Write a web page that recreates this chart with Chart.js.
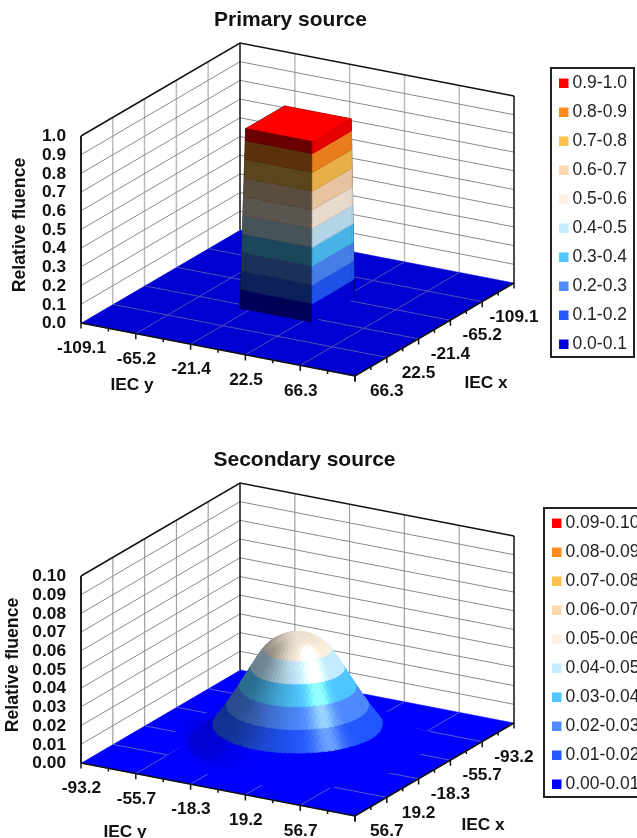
<!DOCTYPE html>
<html lang="en">
  <head>
    <meta charset="utf-8" />
    <title>Primary and secondary source fluence</title>
    <style>
      * { margin: 0; padding: 0; }
      body { width: 637px; height: 838px; overflow: hidden; background: #fff; position: relative; }
      canvas { position: absolute; left: 0; filter: blur(0.35px); }
      #primaryChart { top: 0; }
      #secondaryChart { top: 440px; }
    </style>
  </head>
  <body>
    <canvas id="primaryChart" width="637" height="440"></canvas>
    <canvas id="secondaryChart" width="637" height="398"></canvas>

    <script src="https://cdn.jsdelivr.net/npm/chart.js"></script>
    <script>
      // data block - primary source
      const primaryBands = ["0.0-0.1", "0.1-0.2", "0.2-0.3", "0.3-0.4", "0.4-0.5", "0.5-0.6", "0.6-0.7", "0.7-0.8", "0.8-0.9", "0.9-1.0"];
      const primaryZ = [0, 0.1, 0.2, 0.3, 0.4, 0.5, 0.6, 0.7, 0.8, 0.9, 1.0];
      const primaryZLabels = ["0.0", "0.1", "0.2", "0.3", "0.4", "0.5", "0.6", "0.7", "0.8", "0.9", "1.0"];
      const primaryIecTicks = [-109.1, -65.2, -21.4, 22.5, 66.3];
      const primaryIecRange = [-109.1, 110.1];
      const primaryGrid = [-109.1, -29.0, -24.4, 29.0, 29.6, 110.1];
      const primaryFluence = [
        [0, 0, 0, 0, 0, 0],
        [0, 0, 0, 0, 0, 0],
        [0, 0, 0.965, 0.965, 0, 0],
        [0, 0, 0.965, 0.965, 0, 0],
        [0, 0, 0, 0, 0, 0],
        [0, 0, 0, 0, 0, 0],
      ];

      // data block - secondary source
      const secondaryBands = ["0.00-0.01", "0.01-0.02", "0.02-0.03", "0.03-0.04", "0.04-0.05", "0.05-0.06", "0.06-0.07", "0.07-0.08", "0.08-0.09", "0.09-0.10"];
      const secondaryZ = [0, 0.01, 0.02, 0.03, 0.04, 0.05, 0.06, 0.07, 0.08, 0.09, 0.1];
      const secondaryZLabels = ["0.00", "0.01", "0.02", "0.03", "0.04", "0.05", "0.06", "0.07", "0.08", "0.09", "0.10"];
      const secondaryIecTicks = [-93.2, -55.7, -18.3, 19.2, 56.7];
      const secondaryIecRange = [-93.2, 94.2];
      const secondaryCover = [-55.7, 58.0];
      const secondaryGrid = [-93.2, -65.1, -55.7, -46.4, -37.0, -27.6, -18.3, -8.9, 0.5, 9.9, 19.2, 28.6, 38.0, 47.3, 56.7, 66.1, 94.2];
      const secondaryFluence = [
        [0, 0, 0, 0, 0, 0, 0, 0, 0, 0, 0, 0, 0, 0, 0, 0, 0],
        [0, 0, 0, 0, 0, 0, 0.0002, 0.0004, 0.0005, 0.0004, 0.0002, 0, 0, 0, 0, 0, 0],
        [0, 0, 0, 0, 0.0002, 0.0013, 0.0026, 0.0036, 0.0046, 0.0036, 0.0026, 0.0013, 0.0002, 0, 0, 0, 0],
        [0, 0, 0, 0.0004, 0.0023, 0.0058, 0.0096, 0.0128, 0.0139, 0.0128, 0.0096, 0.0058, 0.0023, 0.0004, 0, 0, 0],
        [0, 0, 0.0002, 0.0023, 0.0072, 0.0139, 0.0201, 0.0243, 0.0257, 0.0243, 0.0201, 0.0139, 0.0072, 0.0023, 0.0002, 0, 0],
        [0, 0, 0.0013, 0.0058, 0.0139, 0.0228, 0.031, 0.0371, 0.0392, 0.0371, 0.031, 0.0228, 0.0139, 0.0058, 0.0013, 0, 0],
        [0, 0.0002, 0.0026, 0.0096, 0.0201, 0.031, 0.0413, 0.049, 0.0512, 0.049, 0.0413, 0.031, 0.0201, 0.0096, 0.0026, 0.0002, 0],
        [0, 0.0004, 0.0036, 0.0128, 0.0243, 0.0371, 0.049, 0.0548, 0.0566, 0.0548, 0.049, 0.0371, 0.0243, 0.0128, 0.0036, 0.0004, 0],
        [0, 0.0005, 0.0046, 0.0139, 0.0257, 0.0392, 0.0512, 0.0566, 0.0588, 0.0566, 0.0512, 0.0392, 0.0257, 0.0139, 0.0046, 0.0005, 0],
        [0, 0.0004, 0.0036, 0.0128, 0.0243, 0.0371, 0.049, 0.0548, 0.0566, 0.0548, 0.049, 0.0371, 0.0243, 0.0128, 0.0036, 0.0004, 0],
        [0, 0.0002, 0.0026, 0.0096, 0.0201, 0.031, 0.0413, 0.049, 0.0512, 0.049, 0.0413, 0.031, 0.0201, 0.0096, 0.0026, 0.0002, 0],
        [0, 0, 0.0013, 0.0058, 0.0139, 0.0228, 0.031, 0.0371, 0.0392, 0.0371, 0.031, 0.0228, 0.0139, 0.0058, 0.0013, 0, 0],
        [0, 0, 0.0002, 0.0023, 0.0072, 0.0139, 0.0201, 0.0243, 0.0257, 0.0243, 0.0201, 0.0139, 0.0072, 0.0023, 0.0002, 0, 0],
        [0, 0, 0, 0.0004, 0.0023, 0.0058, 0.0096, 0.0128, 0.0139, 0.0128, 0.0096, 0.0058, 0.0023, 0.0004, 0, 0, 0],
        [0, 0, 0, 0, 0.0002, 0.0013, 0.0026, 0.0036, 0.0046, 0.0036, 0.0026, 0.0013, 0.0002, 0, 0, 0, 0],
        [0, 0, 0, 0, 0, 0, 0.0002, 0.0004, 0.0005, 0.0004, 0.0002, 0, 0, 0, 0, 0, 0],
        [0, 0, 0, 0, 0, 0, 0, 0, 0, 0, 0, 0, 0, 0, 0, 0, 0],
      ];

      const bandColors = ["#0000ff", "#2259ff", "#4f8aff", "#4fc6ff", "#c6ecff", "#fff0e0", "#ffd9b0", "#ffc24f", "#ff8a1e", "#ff0000"];

      // view of the box, in canvas pixels
      const view = {
        back: [240, 230],
        alongY: [274, 53],
        alongX: [-159, 93],
        height: 187,
      };

      const rgb = (hex) => [1, 3, 5].map((i) => parseInt(hex.slice(i, i + 2), 16));
      const toCss = (c) => `rgb(${c.map((v) => Math.max(0, Math.min(255, Math.round(v)))).join(",")})`;
      const smooth = (a, b, t) => {
        const s = Math.max(0, Math.min(1, (t - a) / (b - a)));
        return s * s * (3 - 2 * s);
      };

      // lighting of the primary block: flat faces, lit from the right
      const primaryShade = (n, band) => {
        const left = band === 0 ? 0.42 : band === 9 ? 0.41 : 0.35;
        const right = band === 0 ? 1 : 0.9;
        const s = right * Math.max(n[0], 0) + left * Math.max(n[1], 0) + Math.max(n[2], 0);
        return { s, spec: 0, base: band === 0 ? "#0000d2" : bandColors[band] };
      };

      // lighting of the secondary dome: darker to the left, streak front right
      const secondaryShade = (n, band) => {
        const m = Math.hypot(n[0], n[1]) || 1e-6;
        const cosAz = n[0] / m;
        if (band === 0) {
          // foot of the dome: only a soft shadow on the left
          const dark = smooth(0.1, -0.7, cosAz) * smooth(0.02, 0.3, m);
          return { s: 1 - 0.18 * dark, spec: 0, base: bandColors[0] };
        }
        const side = 0.55 + 0.45 * smooth(-0.6, 0.7, cosAz);
        const w = Math.pow(n[2], 10);
        const az = Math.atan2(n[1], n[0]);
        const streak = Math.exp(-Math.pow((az - 0.65) / 0.2, 2)) * smooth(0.3, 0.5, m);
        return { s: side * (1 - w) + 0.93 * w, spec: 75 * streak, base: bandColors[band] };
      };

      const catmull = (a, b, c, d, t) =>
        0.5 * (2 * b + (c - a) * t + (2 * a - 5 * b + 4 * c - d) * t * t + (3 * b - a - 3 * c + d) * t * t * t);

      const heightAt = (m, r, c) => {
        const n = m.length - 1;
        const r0 = Math.max(0, Math.min(Math.floor(r), n - 1));
        const c0 = Math.max(0, Math.min(Math.floor(c), n - 1));
        const at = (i, j) => m[Math.max(0, Math.min(n, i))][Math.max(0, Math.min(n, j))];
        const row = [-1, 0, 1, 2].map((k) =>
          catmull(at(r0 + k, c0 - 1), at(r0 + k, c0), at(r0 + k, c0 + 1), at(r0 + k, c0 + 2), c - c0)
        );
        return Math.max(0, catmull(row[0], row[1], row[2], row[3], r - r0));
      };

      const clipAt = (poly, level, keepAbove) => {
        const out = [];
        poly.forEach((p, i) => {
          const q = poly[(i + 1) % poly.length];
          const pIn = keepAbove ? p[2] >= level : p[2] <= level;
          const qIn = keepAbove ? q[2] >= level : q[2] <= level;
          if (pIn) out.push(p);
          if (pIn !== qIn) {
            const t = (level - p[2]) / (q[2] - p[2]);
            out.push([p[0] + (q[0] - p[0]) * t, p[1] + (q[1] - p[1]) * t, level]);
          }
        });
        return out;
      };

      function buildDatasets(cfg) {
        const [lo, hi] = cfg.range;
        const zMax = cfg.zTicks[cfg.zTicks.length - 1];
        const project = (x, y, z) => {
          const u = (y - lo) / (hi - lo);
          const v = (x - lo) / (hi - lo);
          return {
            x: view.back[0] + u * view.alongY[0] + v * view.alongX[0],
            y: view.back[1] + u * view.alongY[1] + v * view.alongX[1] - (z / zMax) * view.height,
          };
        };
        cfg.project = project;

        const list = [];
        const line = (pts, color, width) =>
          list.push({
            data: pts,
            showLine: true,
            fill: false,
            borderColor: color,
            borderWidth: width,
            pointRadius: 0,
            clip: false,
          });
        const poly = (pts, color, edge) =>
          list.push({
            data: pts,
            showLine: true,
            fill: "shape",
            backgroundColor: color,
            borderColor: color,
            borderWidth: edge,
            borderDash: [200, 0],
            pointRadius: 0,
            clip: false,
          });

        // walls
        cfg.ticks.slice(1).forEach((t) => {
          line([project(t, lo, 0), project(t, lo, zMax)], cfg.wallV, cfg.wallVWidth);
          line([project(lo, t, 0), project(lo, t, zMax)], cfg.wallV, cfg.wallVWidth);
        });
        cfg.zTicks.slice(1, -1).forEach((z) => {
          line([project(hi, lo, z), project(lo, lo, z), project(lo, hi, z)], cfg.wallH, 1);
        });
        line([project(lo, lo, 0), project(lo, lo, zMax)], "#111", 1.5);
        line([project(lo, hi, 0), project(lo, hi, zMax)], "#111", 1.5);
        line([project(hi, lo, 0), project(hi, lo, zMax)], "#222", 2);
        line([project(hi, lo, zMax), project(lo, lo, zMax), project(lo, hi, zMax)], "#111", 1.5);

        // floor
        poly([project(lo, lo, 0), project(lo, hi, 0), project(hi, hi, 0), project(hi, lo, 0)], cfg.floor, 0.5);
        cfg.ticks.slice(1).forEach((t) => {
          line([project(t, lo, 0), project(t, hi, 0)], cfg.floorLine, 1);
          line([project(lo, t, 0), project(hi, t, 0)], cfg.floorLine, 1);
        });
        if (cfg.cover) {
          const [a, b] = cfg.cover;
          poly([project(a, a, 0), project(a, b, 0), project(b, b, 0), project(b, a, 0)], cfg.floor, 0.5);
        }

        // surface, back to front
        const n = (cfg.grid.length - 1) * cfg.sub;
        const coordAt = (k) => {
          const i = Math.min(Math.floor(k / cfg.sub), cfg.grid.length - 2);
          return cfg.grid[i] + ((cfg.grid[i + 1] - cfg.grid[i]) * (k - i * cfg.sub)) / cfg.sub;
        };
        const h = (r, c) =>
          cfg.sub === 1 ? cfg.fluence[r][c] : heightAt(cfg.fluence, r / cfg.sub, c / cfg.sub);
        const heights = [];
        for (let r = 0; r <= n; r++) {
          heights.push([]);
          for (let c = 0; c <= n; c++) heights[r].push(h(r, c));
        }
        for (let r = 0; r < n; r++) {
          for (let c = 0; c < n; c++) {
            const x0 = coordAt(r), x1 = coordAt(r + 1), y0 = coordAt(c), y1 = coordAt(c + 1);
            const quad = [
              [x0, y0, heights[r][c]],
              [x0, y1, heights[r][c + 1]],
              [x1, y1, heights[r + 1][c + 1]],
              [x1, y0, heights[r + 1][c]],
            ];
            if (quad.every((p) => p[2] < cfg.zFloor)) continue;
            let normal;
            if (cfg.sub > 1) {
              // wide stencil so the shading stays smooth over the mesh
              const rc = (r + 0.5) / cfg.sub, cc = (c + 0.5) / cfg.sub;
              const dr = (heightAt(cfg.fluence, rc + 1, cc) - heightAt(cfg.fluence, rc - 1, cc)) * cfg.zScale;
              const dc = (heightAt(cfg.fluence, rc, cc + 1) - heightAt(cfg.fluence, rc, cc - 1)) * cfg.zScale;
              const step = 2 * (x1 - x0) * cfg.sub;
              const g = [-dc / step, -dr / step, 1];
              const len = Math.hypot(...g);
              normal = g.map((v) => v / len);
            } else {
              // normal from the two diagonals, heights in mm
              const a = [quad[2][0] - quad[0][0], quad[2][1] - quad[0][1], (quad[2][2] - quad[0][2]) * cfg.zScale];
              const b = [quad[3][0] - quad[1][0], quad[3][1] - quad[1][1], (quad[3][2] - quad[1][2]) * cfg.zScale];
              let nrm = [a[1] * b[2] - a[2] * b[1], a[2] * b[0] - a[0] * b[2], a[0] * b[1] - a[1] * b[0]];
              if (nrm[2] < 0) nrm = nrm.map((v) => -v);
              const len = Math.hypot(...nrm) || 1;
              // normal as [toward +y, toward +x, up]
              normal = [nrm[1] / len, nrm[0] / len, nrm[2] / len];
            }
            for (let k = 0; k < cfg.zTicks.length - 1; k++) {
              let part = clipAt(quad, cfg.zTicks[k], true);
              if (part.length > 2) part = clipAt(part, cfg.zTicks[k + 1], false);
              if (part.length < 3) continue;
              const { s, spec, base } = cfg.shade(normal, k);
              const color = toCss(rgb(base).map((v) => v * s + spec));
              poly(part.map((p) => project(p[0], p[1], p[2])), color, cfg.seam);
            }
          }
        }

        // box edges and ticks in front
        line([project(hi, lo, 0), project(hi, hi, 0), project(lo, hi, 0)], "#111", 1.5);
        for (let i = 0; i <= 10; i++) {
          const t = lo + ((hi - lo) * i) / 10;
          const len = (i % 2 === 0 ? 0.03 : 0.017) * zMax;
          line([project(hi, t, 0), project(hi, t, -len)], "#111", 1.5);
          line([project(t, hi, 0), project(t, hi, -len)], "#111", 1.5);
        }
        return list.reverse();
      }

      // text block, drawn on top of the marks
      const boxText = {
        id: "boxText",
        afterDraw(chart, args, o) {
          const { ctx, scales: { x, y } } = chart;
          const px = (p) => [x.getPixelForValue(p.x), y.getPixelForValue(p.y)];
          const text = (str, tx, ty, font, align, color) => {
            ctx.font = font;
            ctx.textAlign = align || "center";
            ctx.textBaseline = "middle";
            ctx.fillStyle = color || "#111";
            ctx.fillText(str, tx, ty);
          };
          const bold = 'bold 17.3px "Liberation Sans"';
          ctx.save();
          text(o.title, o.titleX, 20, 'bold 21px "Liberation Sans"');
          const [lo, hi] = o.range;
          o.zTicks.forEach((z, i) => {
            const [, ty] = px(o.project(hi, lo, z));
            text(o.zLabels[i], 66, ty + 0.5, bold, "right");
          });
          o.ticks.forEach((t) => {
            const [ax, ay] = px(o.project(hi, t, 0));
            text(String(t), ax + 0.5, ay + 25.5, bold);
            const [bx, by] = px(o.project(t, hi, 0));
            text(String(t), bx, by + 34, bold);
          });
          text("IEC y", o.yLabel[0], o.yLabel[1], bold);
          text("IEC x", o.xLabel[0], o.xLabel[1], bold);
          ctx.save();
          ctx.translate(o.zLabel[0], o.zLabel[1]);
          ctx.rotate(-Math.PI / 2);
          text("Relative fluence", 0, 0, 'bold 17.7px "Liberation Sans"');
          ctx.restore();

          // legend box
          const [bx, by, bw, bh] = o.legendBox;
          ctx.strokeStyle = "#222";
          ctx.lineWidth = 2;
          ctx.strokeRect(bx, by, bw, bh);
          for (let i = 0; i < o.bands.length; i++) {
            const k = o.bands.length - 1 - i;
            const cy = by + 15 + i * 29;
            ctx.fillStyle = k === 0 ? o.legendFloor : bandColors[k];
            ctx.fillRect(bx + 8, cy - 4.5, 9.5, 9.5);
            text(o.bands[k], bx + 21.5, cy + 0.5, '17.5px "Liberation Sans"', "left", "#222");
          }
          ctx.restore();
        },
      };

      function drawChart(id, cfg) {
        const canvas = document.getElementById(id);
        const datasets = buildDatasets(cfg);
        return new Chart(canvas, {
          type: "scatter",
          data: { datasets },
          options: {
            responsive: false,
            animation: false,
            events: [],
            parsing: false,
            normalized: true,
            layout: { padding: 0 },
            scales: {
              x: { type: "linear", display: false, min: 0, max: canvas.width },
              y: { type: "linear", display: false, min: 0, max: canvas.height, reverse: true },
            },
            plugins: {
              legend: { display: false },
              tooltip: { enabled: false },
              boxText: cfg,
            },
          },
          plugins: [boxText],
        });
      }

      // init render block
      drawChart("primaryChart", {
        title: "Primary source",
        titleX: 290.5,
        range: primaryIecRange,
        ticks: primaryIecTicks,
        zTicks: primaryZ,
        zLabels: primaryZLabels,
        bands: primaryBands,
        grid: primaryGrid,
        fluence: primaryFluence,
        sub: 1,
        seam: 0.6,
        zFloor: 1e-4,
        zScale: 150,
        shade: primaryShade,
        floor: "#0000d2",
        floorLine: "#5050b4",
        wallV: "#bbbbbb",
        wallVWidth: 1.5,
        wallH: "#8a8a8a",
        legendBox: [551, 68, 83, 289],
        legendFloor: "#0000d8",
        yLabel: [132, 385],
        xLabel: [486, 383],
        zLabel: [20, 225],
      });

      drawChart("secondaryChart", {
        title: "Secondary source",
        titleX: 304.5,
        range: secondaryIecRange,
        ticks: secondaryIecTicks,
        zTicks: secondaryZ,
        zLabels: secondaryZLabels,
        bands: secondaryBands,
        grid: secondaryGrid,
        fluence: secondaryFluence,
        sub: 4,
        seam: 1.1,
        zFloor: 1e-4,
        zScale: 750,
        shade: secondaryShade,
        floor: "#0000ff",
        floorLine: "#5a5ac8",
        cover: secondaryCover,
        wallV: "#a0a0a0",
        wallVWidth: 1.2,
        wallH: "#8a8a8a",
        legendBox: [544, 68, 110, 289],
        legendFloor: "#0000ff",
        yLabel: [125, 392],
        xLabel: [483, 385],
        zLabel: [13.5, 225],
      });
    </script>
  </body>
</html>
